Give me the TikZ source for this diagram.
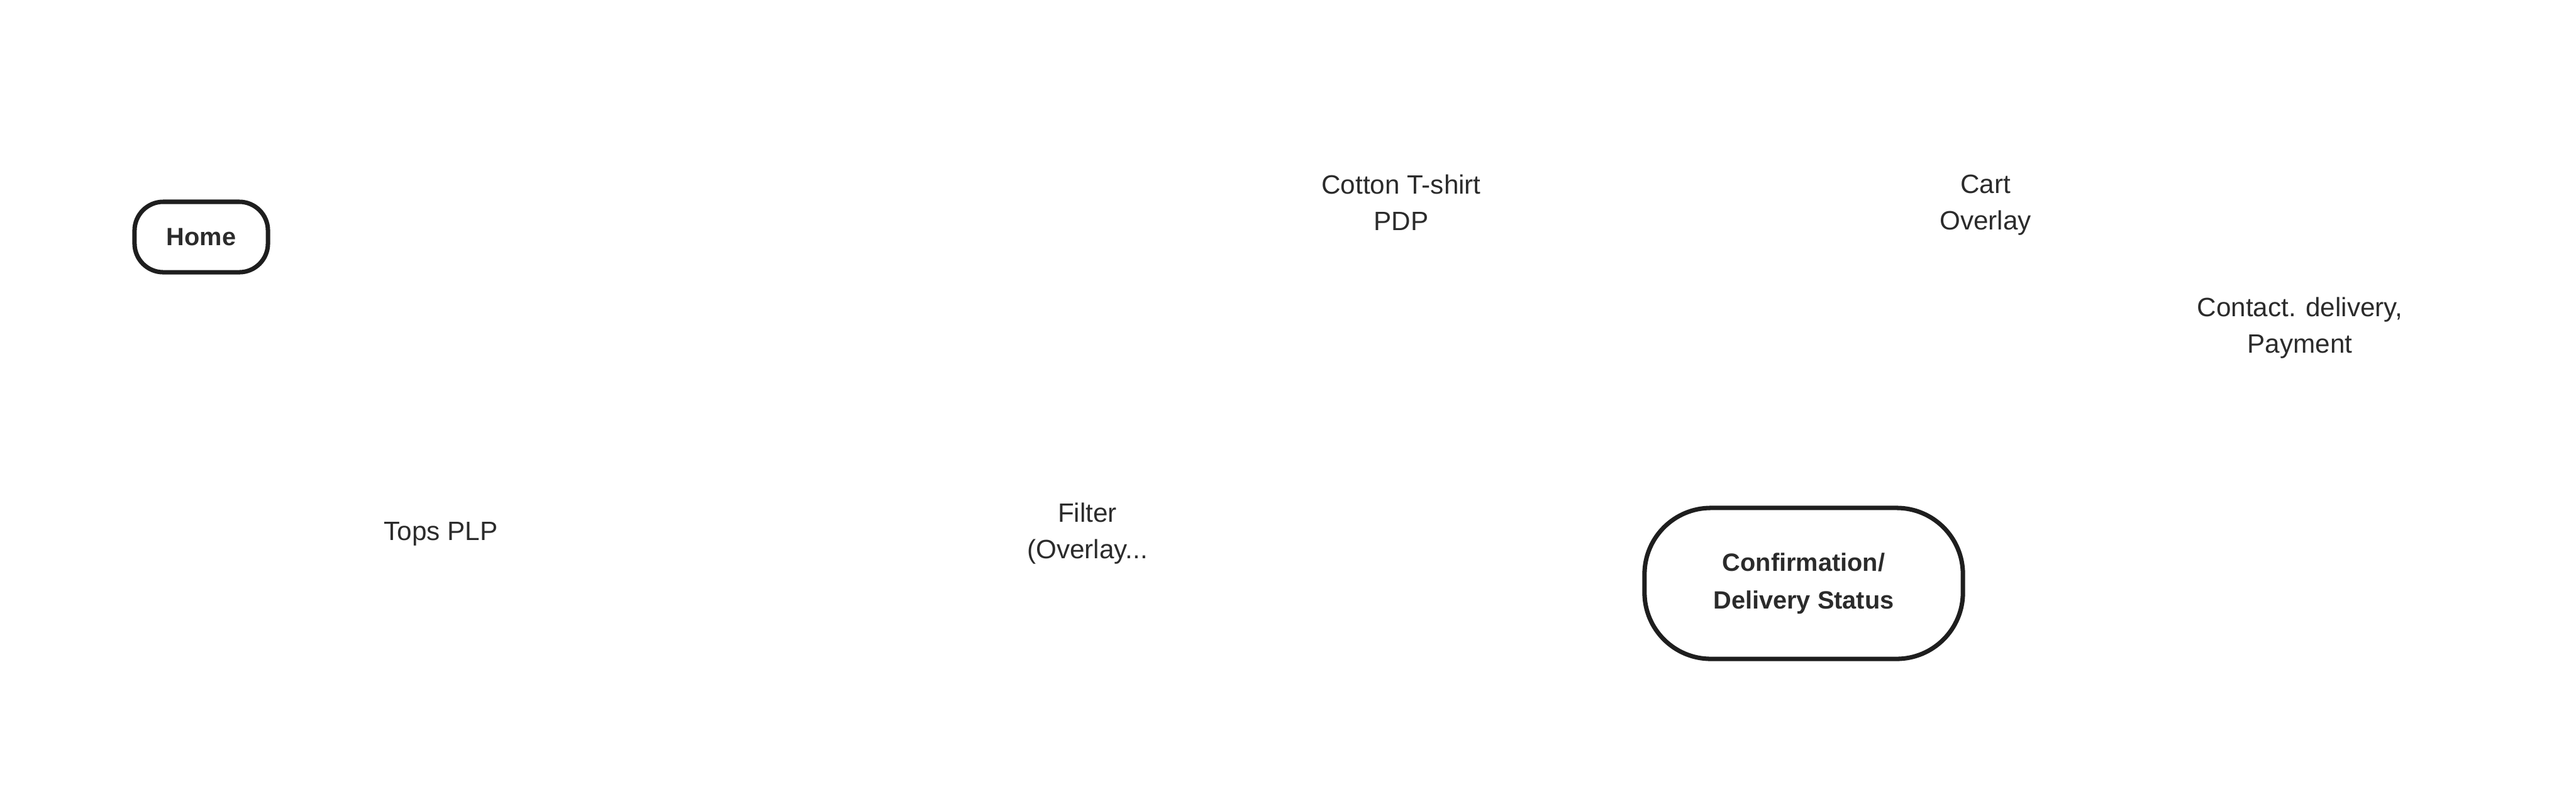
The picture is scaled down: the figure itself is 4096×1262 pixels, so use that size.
\documentclass[tikz,border=0pt]{standalone}
\usepackage{fontspec}
\setmainfont{Liberation Sans}
\definecolor{ink}{HTML}{2B2B2B}
\definecolor{edge}{HTML}{1E1E1E}
\begin{document}
\begin{tikzpicture}[x=0.01cm,y=-0.01cm,
  lbl/.style={align=center,text=ink,font=\fontsize{12pt}{16.5pt}\selectfont,inner sep=0pt},
  term/.style={lbl,draw=edge,line width=2pt,rounded corners=#1,font=\fontsize{11.3pt}{17pt}\selectfont\bfseries},
  term/.default=13pt]
\useasboundingbox[fill=white] (0,0) rectangle (4096,1262);
\node[term=13pt,minimum width=2.12cm,minimum height=1.12cm] (home) at (320,377) {Home};
\node[lbl] (tops) at (701,849) {Tops PLP};
\node[lbl] (filter) at (1729,849) {Filter\\(Overlay...};
\node[lbl] (pdp) at (2228,322) {Cotton T-shirt\\PDP};
\node[lbl] (cart) at (3157,326) {Cart\\Overlay};
\node[lbl] (contact) at (3657,522) {Contact. delivery,\\Payment};
\node[term=30pt,minimum width=5.06cm,minimum height=2.4cm] (conf) at (2868,928) {\raisebox{0pt}[\height][0pt]{}\vspace{0pt}Confirmation/\\Delivery Status};
\end{tikzpicture}
\end{document}
